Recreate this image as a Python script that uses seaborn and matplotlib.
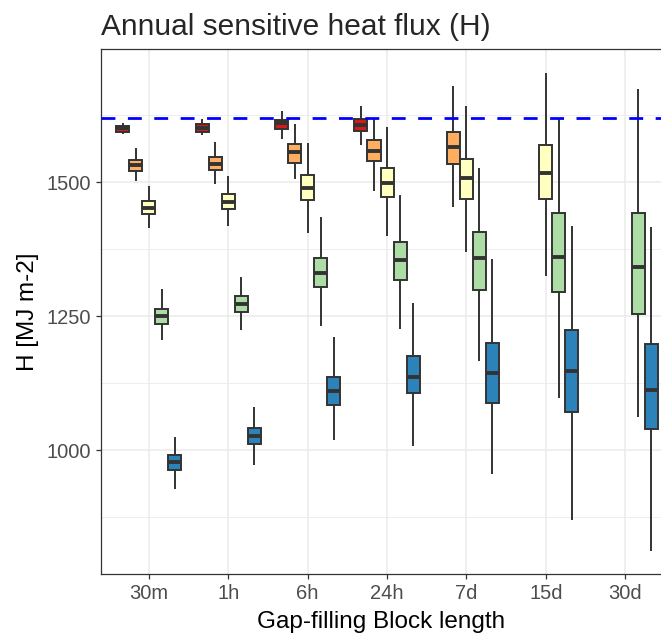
import numpy as np
import pandas as pd
import seaborn as sns
import matplotlib.pyplot as plt
from matplotlib.ticker import MultipleLocator

# categorias del eje x y niveles (colores)
blocks = ["30m", "1h", "6h", "24h", "7d", "15d", "30d"]
levels = ["L1", "L2", "L3", "L4", "L5"]
colores = ["#d7191c", "#fdae61", "#ffffbf", "#abdda4", "#2b83ba"]

# resumen de cada caja: (min, q1, mediana, q3, max) por bloque, None = sin datos
L1 = [(1589, 1594, 1600, 1605, 1611), (1588, 1594, 1601, 1608, 1617),
      (1580, 1599, 1611, 1616, 1632), (1569, 1595, 1606, 1617, 1642),
      None, None, None]
L2 = [(1502, 1521, 1531, 1541, 1563), (1497, 1522, 1534, 1546, 1574),
      (1506, 1536, 1556, 1570, 1608), (1483, 1539, 1558, 1578, 1619),
      (1453, 1533, 1565, 1594, 1679), None, None]
L3 = [(1415, 1440, 1452, 1464, 1492), (1418, 1450, 1462, 1477, 1512),
      (1405, 1466, 1488, 1514, 1572), (1399, 1472, 1499, 1527, 1602),
      (1369, 1468, 1507, 1543, 1642), (1325, 1468, 1516, 1569, 1704), None]
L4 = [(1205, 1236, 1250, 1264, 1301), (1224, 1258, 1272, 1287, 1323),
      (1232, 1305, 1331, 1359, 1435), (1226, 1318, 1354, 1389, 1476),
      (1167, 1298, 1358, 1406, 1527), (1097, 1294, 1361, 1443, 1619),
      (1061, 1253, 1342, 1443, 1673)]
L5 = [(927, 962, 977, 991, 1025), (973, 1011, 1027, 1042, 1081),
      (1018, 1084, 1110, 1137, 1211), (1008, 1106, 1137, 1175, 1275),
      (956, 1088, 1144, 1200, 1356), (870, 1071, 1147, 1224, 1418),
      (812, 1040, 1113, 1197, 1417)]
referencia = 1620

filas = []
for lvl, serie in zip(levels, [L1, L2, L3, L4, L5]):
    for b, stats in zip(blocks, serie):
        if stats is None:
            continue
        for v in stats:
            filas.append({"block": b, "level": lvl, "H": v})
df = pd.DataFrame(filas)

sns.set_style("white")
plt.rcParams["font.family"] = ["Liberation Sans", "DejaVu Sans"]

fig = plt.figure(figsize=(6.61, 6.37), dpi=100)
ax = fig.add_axes([0.153, 0.099, 0.847, 0.824])

sns.boxplot(data=df, x="block", y="H", hue="level", order=blocks, hue_order=levels,
            palette=colores, saturation=1, width=0.82, gap=0, whis=(0, 100),
            fliersize=0, showcaps=False,
            linecolor="#333333", linewidth=1.4, legend=False,
            medianprops=dict(linewidth=2.8, color="#333333"), ax=ax)

ax.axhline(referencia, color="#0000ff", lw=2, ls=(0, (5, 4.5)), zorder=5)

ax.set_xlim(-0.6, 6.45)
ax.set_ylim(769, 1748)
ax.yaxis.set_major_locator(MultipleLocator(250))
ax.yaxis.set_minor_locator(MultipleLocator(125))
ax.set_axisbelow(True)
ax.grid(True, which="major", color="#ebebeb", lw=1.1)
ax.grid(True, which="minor", axis="y", color="#ebebeb", lw=0.6)

for s in ["left", "top", "bottom"]:
    ax.spines[s].set_color("#333333")
    ax.spines[s].set_linewidth(0.9)
ax.spines["right"].set_visible(False)
ax.tick_params(axis="both", which="major", length=3.5, width=0.9, color="#333333",
               labelcolor="#4d4d4d", labelsize=14.5, left=True, bottom=True)

ax.set_xlabel("Gap-filling Block length", fontsize=17.5, color="black", labelpad=6)
ax.set_ylabel("H [MJ m-2]", fontsize=17.5, color="black", labelpad=6)
ax.set_title("Annual sensitive heat flux (H)", fontsize=21.5, loc="left", x=0.0, pad=10)

fig.savefig("out.png", dpi=100)
